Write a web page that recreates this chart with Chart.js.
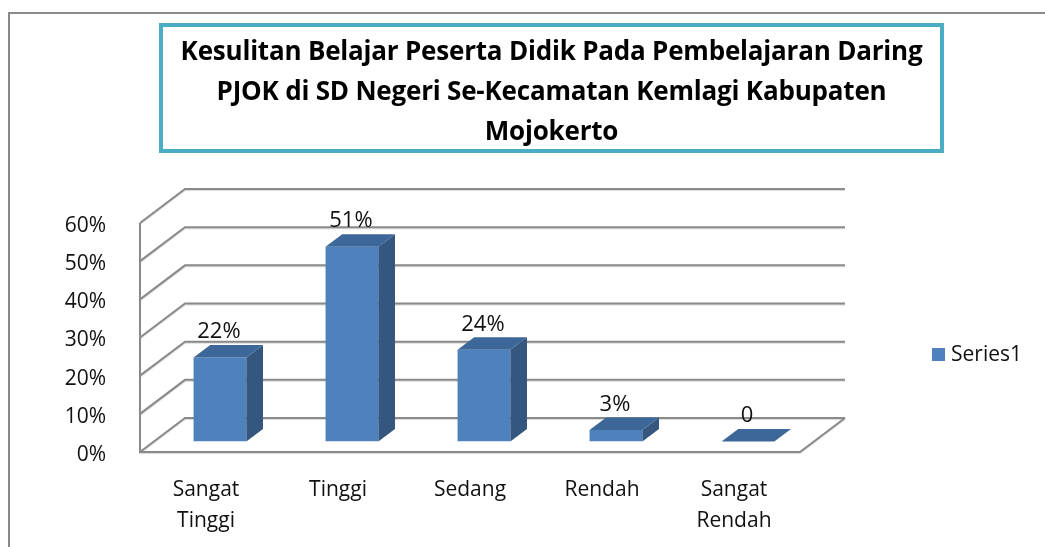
<!DOCTYPE html>
<html><head><meta charset="utf-8">
<script src="https://cdn.jsdelivr.net/npm/chart.js@4.4.1/dist/chart.umd.min.js"></script>
<style>
html,body{margin:0;padding:0;background:#fff;}
#wrap{position:relative;width:1045px;height:547px;overflow:hidden;background:#fff;}
#frame{position:absolute;left:8px;top:12px;width:1100px;height:600px;border-left:2px solid #8a8a8a;border-top:2px solid #8a8a8a;}
#title{position:absolute;left:159px;top:23px;width:785px;height:130px;box-sizing:border-box;border:4px solid #4BACC6;
  font-family:"Open Sans",sans-serif;font-weight:700;font-size:26px;line-height:40px;text-align:center;color:#000;padding-top:3px;letter-spacing:-0.2px;}
canvas{position:absolute;left:0;top:0;}
</style></head>
<body><div id="wrap"><div id="frame"></div>
<canvas id="c" width="1045" height="547"></canvas>
<div id="title">Kesulitan Belajar Peserta Didik Pada Pembelajaran Daring<br>PJOK di SD Negeri Se-Kecamatan Kemlagi Kabupaten<br>Mojokerto</div>
</div>
<script>
const categories = [['Sangat','Tinggi'], 'Tinggi', 'Sedang', 'Rendah', ['Sangat','Rendah']];
const values = [22, 51, 24, 3, 0];
const valueLabels = ['22%', '51%', '24%', '3%', '0'];
const seriesName = 'Series1';
const yMin = 0, yMax = 60, yStep = 10;

const FONT = '"Open Sans", sans-serif';
const DEPTH = {x: 45, y: -34};
const FRONT = 0.31, BARDEPTH = 0.37;
const COLORS = {front: '#4F81BD', top: '#3D6799', side: '#34567F', grid: '#8a8a8a'};

const threeD = {
  id: 'threeD',
  beforeDatasetsDraw(chart) {
    const ctx = chart.ctx, a = chart.chartArea, ys = chart.scales.y;
    const L = a.left, R = a.right, B = a.bottom, T = a.top;
    ctx.save();
    ctx.strokeStyle = COLORS.grid; ctx.lineWidth = 2;
    ctx.shadowColor = 'rgba(0,0,0,0.15)'; ctx.shadowOffsetY = 1; ctx.shadowBlur = 1;
    ctx.beginPath();
    for (let v = yMin; v <= yMax; v += yStep) {
      const y = ys.getPixelForValue(v);
      ctx.moveTo(L, y); ctx.lineTo(L + DEPTH.x, y + DEPTH.y); ctx.lineTo(R + DEPTH.x, y + DEPTH.y);
    }
    ctx.moveTo(L, T); ctx.lineTo(L, B); ctx.lineTo(R, B); ctx.lineTo(R + DEPTH.x, B + DEPTH.y);
    ctx.stroke();
    ctx.restore();
    ctx.save();
    ctx.translate(DEPTH.x * FRONT, DEPTH.y * FRONT);
  },
  afterDatasetsDraw(chart) {
    const ctx = chart.ctx;
    ctx.restore();
    const ox = DEPTH.x * FRONT, oy = DEPTH.y * FRONT;
    const dx = DEPTH.x * BARDEPTH, dy = DEPTH.y * BARDEPTH;
    const meta = chart.getDatasetMeta(0);
    ctx.save();
    meta.data.forEach((el, i) => {
      const p = el.getProps(['x', 'y', 'base', 'width'], true);
      const xl = p.x - p.width / 2 + ox, xr = p.x + p.width / 2 + ox;
      const yt = p.y + oy, yb = p.base + oy;
      ctx.fillStyle = COLORS.side;
      ctx.beginPath();
      ctx.moveTo(xr, yt); ctx.lineTo(xr + dx, yt + dy); ctx.lineTo(xr + dx, yb + dy); ctx.lineTo(xr, yb); ctx.closePath();
      ctx.fill();
      ctx.fillStyle = COLORS.top;
      ctx.beginPath();
      ctx.moveTo(xl, yt); ctx.lineTo(xl + dx, yt + dy); ctx.lineTo(xr + dx, yt + dy); ctx.lineTo(xr, yt); ctx.closePath();
      ctx.fill();
      ctx.fillStyle = '#111';
      ctx.font = '22px ' + FONT;
      ctx.textAlign = 'center'; ctx.textBaseline = 'bottom';
      ctx.fillText(valueLabels[i], p.x + ox - 1, yt + dy - 2);
    });
    // legend
    ctx.fillStyle = COLORS.front;
    ctx.fillRect(932, 348, 13, 13);
    ctx.fillStyle = '#111';
    ctx.font = '21px ' + FONT;
    ctx.textAlign = 'left'; ctx.textBaseline = 'middle';
    ctx.fillText(chart.data.datasets[0].label, 951, 355);
    ctx.restore();
  }
};

new Chart(document.getElementById('c'), {
  type: 'bar',
  data: {
    labels: categories,
    datasets: [{label: seriesName, data: values, backgroundColor: COLORS.front, borderWidth: 0,
      categoryPercentage: 1.0, barPercentage: 0.4}]
  },
  options: {
    responsive: false, animation: false, devicePixelRatio: 1,
    layout: {padding: {top: 223, right: 245, bottom: 0, left: 0}},
    plugins: {legend: {display: false}, tooltip: {enabled: false}, title: {display: false}},
    scales: {
      x: {
        grid: {display: false}, border: {display: false},
        ticks: {color: '#111', font: {family: FONT, size: 21, lineHeight: 1.5}, padding: 14, maxRotation: 0, autoSkip: false},
        afterFit(s) { s.height = 95; }
      },
      y: {
        min: yMin, max: yMax,
        grid: {display: false}, border: {display: false},
        ticks: {stepSize: yStep, color: '#111', font: {family: FONT, size: 21}, padding: 26, labelOffset: 3,
          callback: v => v + '%'},
        afterFit(s) { s.width = 140; }
      }
    }
  },
  plugins: [threeD]
});
</script>
</body></html>
